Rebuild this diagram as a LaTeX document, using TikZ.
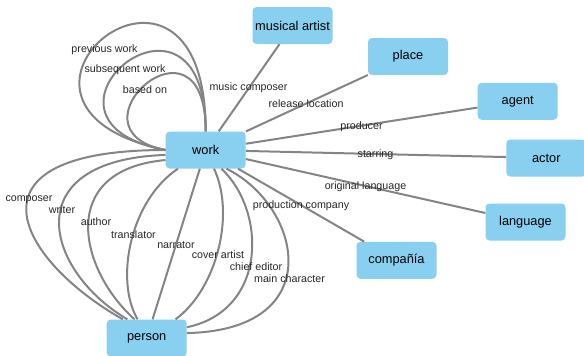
\documentclass[tikz,border=0pt]{standalone}
\usepackage{fontspec}
\setmainfont{Liberation Sans}
\definecolor{nodeblue}{RGB}{137,207,240}
\definecolor{edgegray}{RGB}{132,132,132}
\tikzset{
  entity/.style={fill=nodeblue, rounded corners=4pt, minimum width=80pt, minimum height=37pt, inner sep=0pt, font=\fontsize{12.8}{14}\selectfont},
  link/.style={draw=edgegray, line width=2pt},
  lbl/.style={inner sep=0pt, text=black!85, font=\fontsize{10.7}{12}\selectfont}
}

\begin{document}
\begin{tikzpicture}[x=1pt, y=-1pt]
        \useasboundingbox (0,0) rectangle (584,356);

        % Nodes
        \node[entity] (work) at (205.7,150) {work};
        \node[entity] (artist) at (292.5,25.5) {musical artist};
        \node[entity] (place) at (408,56.5) {place};
        \node[entity] (agent) at (517.7,101.3) {agent};
        \node[entity] (actor) at (546.3,158) {actor};
        \node[entity] (language) at (525.5,222) {language};
        \node[entity] (company) at (396.5,260.3) {compañía};
        \node[entity] (person) at (146.7,338) {person};

        % Self loops
        \draw[link] (work.west) .. controls +(-215,-45) and +(0,-232) .. (work.north);
        \draw[link] (work.west) .. controls +(-160,-30) and +(0,-177) .. (work.north);
        \draw[link] (work.west) .. controls +(-105,-20) and +(0,-132) .. (work.north);

        % Straight edges
        \draw[link] (work) -- (artist);
        \draw[link] (work) -- (place);
        \draw[link] (work) -- (agent);
        \draw[link] (work) -- (actor);
        \draw[link] (work) -- (language);
        \draw[link] (work) -- (company);
        \draw[link] (work) -- (person);

        % Edges to person
        \draw[link] (work.180) .. controls +(-210,0) and +(-104,-59) .. (person.142);
        \draw[link] (work.187) .. controls +(-150,5) and +(-83,-49) .. (person.136);
        \draw[link] (work.194) .. controls +(-110,10) and +(-55,-49) .. (person.123);
        \draw[link] (work.214) .. controls +(-48,32) and +(-23,-39) .. (person.116);
        \draw[link] (work.294) .. controls +(22,47) and +(40,-29) .. (person.33);
        \draw[link] (work.310) .. controls +(45,42) and +(81,-17) .. (person.15);
        \draw[link] (work.318) .. controls +(75,37) and +(143,-3) .. (person.7);

        % Labels
        \node[lbl] (l-prev) at (104.5,50) {previous work};
        \node[lbl] (l-next) at (125,70) {subsequent work};
        \node[lbl] (l-based) at (145,90) {based on};
        \node[lbl] (l-music) at (248.5,88) {music composer};
        \node[lbl] (l-release) at (306,104) {release location};
        \node[lbl] (l-producer) at (361.5,126.5) {producer};
        \node[lbl] (l-starring) at (375.5,155) {starring};
        \node[lbl] (l-lang) at (365.5,186.5) {original language};
        \node[lbl] (l-company) at (301,206) {production company};
        \node[lbl] (l-composer) at (29,200) {composer};
        \node[lbl] (l-writer) at (62,210) {writer};
        \node[lbl] (l-author) at (96,222) {author};
        \node[lbl] (l-transl) at (133.5,234.5) {translator};
        \node[lbl] (l-narr) at (176,245) {narrator};
        \node[lbl] (l-cover) at (218,255) {cover artist};
        \node[lbl] (l-chief) at (256,267) {chief editor};
        \node[lbl] (l-main) at (289.5,279) {main character};
\end{tikzpicture}
\end{document}
